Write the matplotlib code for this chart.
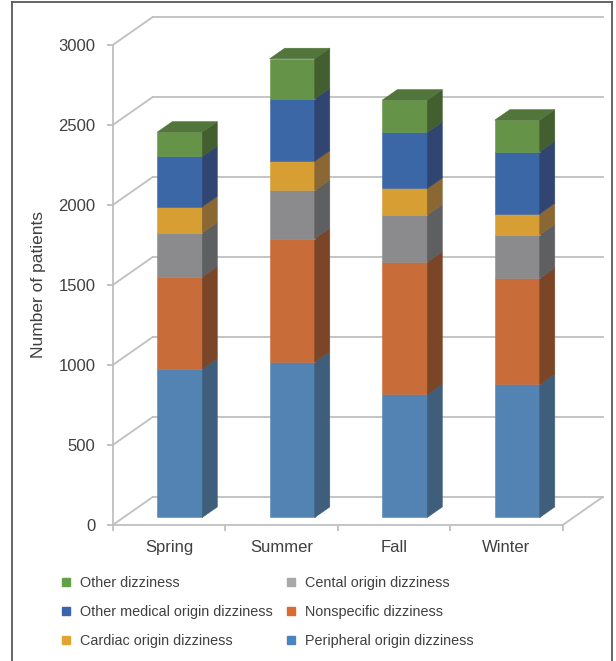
import numpy as np
import matplotlib.pyplot as plt
from matplotlib.patches import Polygon
from matplotlib.lines import Line2D

plt.rcParams['font.family'] = ['Liberation Sans', 'DejaVu Sans']

seasons = ["Spring", "Summer", "Fall", "Winter"]
series_names = ["Peripheral origin dizziness", "Nonspecific dizziness",
                "Cental origin dizziness", "Cardiac origin dizziness",
                "Other medical origin dizziness", "Other dizziness"]
peripheral = [929, 971, 769, 831]
nonspecific = [575, 771, 827, 663]
central = [275, 302, 294, 273]
cardiac = [163, 183, 166, 131]
other_medical = [314, 390, 350, 388]
other = [152, 250, 202, 197]
yticks = [0, 500, 1000, 1500, 2000, 2500, 3000]

series = [peripheral, nonspecific, central, cardiac, other_medical, other]
# front face, side face, legend swatch
front_cols = ['#5283B3', '#C86C3A', '#8B8B8E', '#D69E33', '#3B67A6', '#659348']
side_cols = ['#3E5E7C', '#7B4527', '#5E5F61', '#8B6833', '#304571', '#435F2F']
top_cols = ['#4A6F94', '#9C5530', '#767678', '#AE8233', '#34558A', '#52753B']
legend_cols = ['#4A84C0', '#D96B33', '#A8A8A8', '#E0A431', '#3A64AE', '#64A048']

GRID = '#BFBFBF'
TXT = '#404040'

# oblique 3-D offsets (full depth of the box) in data units
OX, OY = 0.356, 175.0
Z0, DZ = 0.27, 0.375     # bar front depth and bar thickness
W = 0.4

fig = plt.figure(figsize=(6.16, 6.61), dpi=100)
ax = fig.add_axes([112.7 / 616, 136 / 661, 450 / 616, 480 / 661])
ax.set_xlim(-0.5, 3.5)
ax.set_ylim(0, 3000)

# back wall, left wall and floor
for v in yticks:
    ax.plot([-0.5 + OX, 3.5 + OX], [v + OY, v + OY], color=GRID, lw=1.3,
            clip_on=False, zorder=0)
    ax.plot([-0.5, -0.5 + OX], [v, v + OY], color=GRID, lw=1.3,
            clip_on=False, zorder=0)
ax.plot([3.5, 3.5 + OX], [0, OY], color=GRID, lw=1.3, clip_on=False, zorder=0)

x = np.arange(len(seasons))
xf = x + Z0 * OX
bottom = np.zeros(len(seasons))
for k, vals in enumerate(series):
    vals = np.array(vals, dtype=float)
    base = bottom + Z0 * OY
    ax.bar(xf, vals, width=W, bottom=base, color=front_cols[k],
           edgecolor=front_cols[k], lw=0.4, zorder=3, clip_on=False)
    for xi, b, h in zip(xf, base, vals):
        xr = xi + W / 2
        ax.add_patch(Polygon([(xr, b), (xr + DZ * OX, b + DZ * OY),
                              (xr + DZ * OX, b + h + DZ * OY), (xr, b + h)],
                             closed=True, fc=side_cols[k], ec=side_cols[k],
                             lw=0.4, zorder=3, clip_on=False))
        if k == len(series) - 1:
            xl = xi - W / 2
            t = b + h
            ax.add_patch(Polygon([(xl, t), (xr, t), (xr + DZ * OX, t + DZ * OY),
                                  (xl + DZ * OX, t + DZ * OY)],
                                 closed=True, fc=top_cols[k], ec=top_cols[k],
                                 lw=0.4, zorder=3, clip_on=False))
    bottom = bottom + vals

for s in ['top', 'right']:
    ax.spines[s].set_visible(False)
for s in ['left', 'bottom']:
    ax.spines[s].set_color(GRID)
    ax.spines[s].set_linewidth(1.3)

ax.set_yticks(yticks)
ax.tick_params(axis='y', length=4, width=1.3, color=GRID, pad=8.5,
               labelsize=12, labelcolor=TXT)
ax.set_xticks(x, seasons)
ax.set_xticks(np.arange(-0.5, 4, 1), minor=True)
ax.tick_params(axis='x', which='major', length=0, pad=11, labelsize=12,
               labelcolor=TXT)
ax.tick_params(axis='x', which='minor', length=4, width=1.3, color=GRID)
ax.set_ylabel("Number of patients", fontsize=12.5, color=TXT)
ax.yaxis.set_label_coords(-0.148, 0.5)
ax.patch.set_visible(False)

# legend, filled column by column
order = [5, 4, 3, 2, 1, 0]
handles = [Line2D([], [], marker='s', ls='none', ms=6, mfc=legend_cols[i],
                  mec=legend_cols[i]) for i in order]
labels = [series_names[i] for i in order]
fig.legend(handles, labels, ncol=2, loc='upper left',
           bbox_to_anchor=(58.5 / 616, 1 - 576 / 661), frameon=False,
           fontsize=10.4, labelcolor=TXT, handlelength=1.0, handletextpad=0.5,
           columnspacing=0.73, labelspacing=1.03, borderpad=0, borderaxespad=0)

# outer frame
fc = '#595959'
fig.add_artist(Line2D([11.5 / 616, 11.5 / 616], [0, 1 - 2 / 661], color=fc, lw=1.3))
fig.add_artist(Line2D([612 / 616, 612 / 616], [0, 1 - 2 / 661], color=fc, lw=1.3))
fig.add_artist(Line2D([11.5 / 616, 612 / 616], [1 - 2 / 661, 1 - 2 / 661], color=fc, lw=1.3))

fig.savefig('out.png', dpi=100)
